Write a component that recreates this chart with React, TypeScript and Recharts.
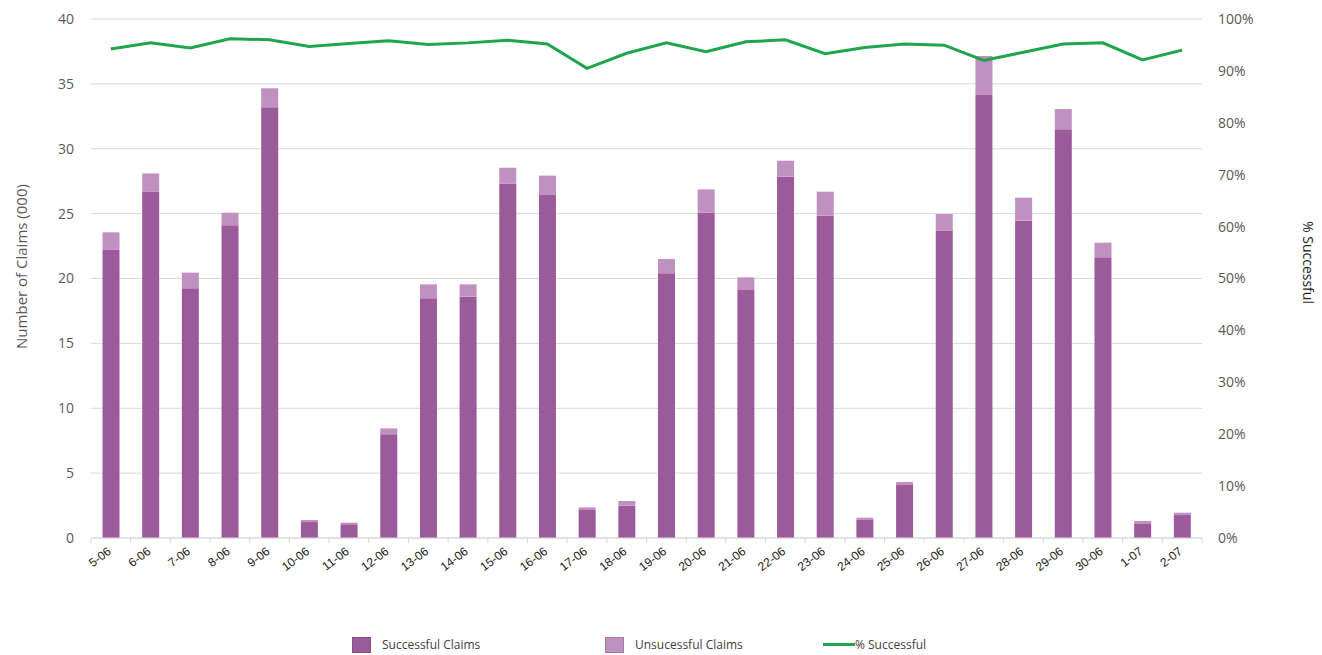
import React from 'react';
import { ComposedChart, Bar, Line, XAxis, YAxis, CartesianGrid, Legend } from 'recharts';

const categories = ['5-06', '6-06', '7-06', '8-06', '9-06', '10-06', '11-06', '12-06', '13-06', '14-06', '15-06', '16-06', '17-06', '18-06', '19-06', '20-06', '21-06', '22-06', '23-06', '24-06', '25-06', '26-06', '27-06', '28-06', '29-06', '30-06', '1-07', '2-07'];
const successfulClaims = [22.2, 26.7, 19.25, 24.1, 33.2, 1.23, 1.06, 8.0, 18.47, 18.6, 27.33, 26.43, 2.16, 2.49, 20.4, 25.07, 19.11, 27.85, 24.84, 1.39, 4.08, 23.69, 34.14, 24.46, 31.5, 21.63, 1.13, 1.77];
const unsuccessfulClaims = [1.36, 1.4, 1.2, 0.97, 1.46, 0.16, 0.12, 0.45, 1.08, 0.95, 1.21, 1.5, 0.2, 0.36, 1.1, 1.8, 0.98, 1.23, 1.85, 0.17, 0.24, 1.28, 3.01, 1.77, 1.56, 1.13, 0.18, 0.18];
const pctSuccessful = [94.2, 95.4, 94.4, 96.2, 96.0, 94.7, 95.3, 95.8, 95.1, 95.4, 95.9, 95.2, 90.5, 93.4, 95.4, 93.7, 95.6, 96.0, 93.3, 94.5, 95.2, 94.95, 92.0, 93.6, 95.2, 95.4, 92.1, 94.0];
const leftTicks = [0, 5, 10, 15, 20, 25, 30, 35, 40];
const rightTicks = [0, 10, 20, 30, 40, 50, 60, 70, 80, 90, 100];

const data = categories.map((day, i) => ({
  day,
  successful: successfulClaims[i],
  unsuccessful: unsuccessfulClaims[i],
  pct: pctSuccessful[i],
}));

const SUCC = '#9B5B9B';
const UNSUCC = '#C090C0';
const GREEN = '#1FA54C';
const GRID = '#D9D9D9';
const UI_FONT = '"Open Sans", sans-serif';

const XTick = (props: any) => {
  const { x, y, payload, index, visibleTicksCount } = props;
  const off = payload && payload.offset ? payload.offset : 0;
  return (
    <g>
      {off ? <line x1={x - off} x2={x - off} y1={y} y2={y + 5} stroke={GRID} /> : null}
      {off && index === visibleTicksCount - 1 ? <line x1={x + off} x2={x + off} y1={y} y2={y + 5} stroke={GRID} /> : null}
      <text
        x={x + 1}
        y={y + 15}
        textAnchor="end"
        transform={`rotate(-37, ${x + 1}, ${y + 15})`}
        fontSize={12}
        fontFamily='"Liberation Sans", Arial, sans-serif'
        fill="#1a1a1a"
      >
        {payload.value}
      </text>
    </g>
  );
};

const LeftTitle = (props: any) => {
  const vb = props.viewBox || { x: 0, y: 0, width: 0, height: 0 };
  const cx = 21;
  const cy = vb.y + vb.height / 2 - 12;
  return (
    <text x={cx} y={cy} textAnchor="middle" dominantBaseline="central" transform={`rotate(-90, ${cx}, ${cy})`} fontSize={15} fontFamily={UI_FONT} fill="#595959">
      Number of Claims (000)
    </text>
  );
};

const RightTitle = (props: any) => {
  const vb = props.viewBox || { x: 0, y: 0, width: 0, height: 0 };
  const cx = vb.x + 106;
  const cy = vb.y + vb.height / 2 - 16;
  return (
    <text x={cx} y={cy} textAnchor="middle" dominantBaseline="central" transform={`rotate(90, ${cx}, ${cy})`} fontSize={14} fontFamily={UI_FONT} fill="#262626">
      % Successful
    </text>
  );
};

const renderLegend = () => (
  <div style={{ height: 24, position: 'relative', fontFamily: UI_FONT, fontSize: 12, color: '#404040' }}>
    <div style={{ position: 'absolute', left: 352, top: 5, display: 'flex', alignItems: 'center' }}>
      <span style={{ display: 'inline-block', width: 19, height: 16, background: SUCC, border: '1px solid #8a4f8a', boxSizing: 'border-box' }} />
      <span style={{ marginLeft: 11 }}>Successful Claims</span>
    </div>
    <div style={{ position: 'absolute', left: 605, top: 5, display: 'flex', alignItems: 'center' }}>
      <span style={{ display: 'inline-block', width: 19, height: 16, background: UNSUCC, border: '1px solid #a87aa8', boxSizing: 'border-box' }} />
      <span style={{ marginLeft: 11 }}>Unsucessful Claims</span>
    </div>
    <div style={{ position: 'absolute', left: 823, top: 5, display: 'flex', alignItems: 'center', height: 16 }}>
      <span style={{ display: 'inline-block', width: 32, height: 3, background: GREEN }} />
      <span>% Successful</span>
    </div>
  </div>
);

export default function App() {
  return (
    <div style={{ position: 'absolute', left: 0, top: 0, width: 1322, height: 655, background: '#fff' }}>
      <ComposedChart
        width={1322}
        height={655}
        data={data}
        margin={{ top: 19, right: 0, bottom: 0, left: 0 }}
        barCategoryGap="29%"
      >
        <CartesianGrid vertical={false} stroke={GRID} yAxisId="left" />
        <XAxis
          dataKey="day"
          height={93}
          interval={0}
          tickLine={false}
          tickSize={0}
          tickMargin={0}
          axisLine={{ stroke: GRID }}
          tick={<XTick />}
        />
        <YAxis
          yAxisId="left"
          width={91}
          domain={[0, 40]}
          ticks={leftTicks}
          axisLine={false}
          tickLine={false}
          tickMargin={11}
          tick={{ fill: '#595959', fontSize: 14, fontFamily: UI_FONT }}
          label={<LeftTitle />}
        />
        <YAxis
          yAxisId="right"
          orientation="right"
          width={120}
          domain={[0, 100]}
          ticks={rightTicks}
          tickFormatter={(v: number) => `${v}%`}
          axisLine={false}
          tickLine={false}
          tickMargin={10}
          tick={{ fill: '#595959', fontSize: 14, fontFamily: UI_FONT }}
          label={<RightTitle />}
        />
        <Bar yAxisId="left" dataKey="successful" name="Successful Claims" stackId="claims" fill={SUCC} isAnimationActive={false} />
        <Bar yAxisId="left" dataKey="unsuccessful" name="Unsucessful Claims" stackId="claims" fill={UNSUCC} isAnimationActive={false} />
        <Line yAxisId="right" dataKey="pct" name="% Successful" type="linear" stroke={GREEN} strokeWidth={3} dot={false} isAnimationActive={false} />
        <Legend verticalAlign="bottom" content={renderLegend} />
      </ComposedChart>
    </div>
  );
}
